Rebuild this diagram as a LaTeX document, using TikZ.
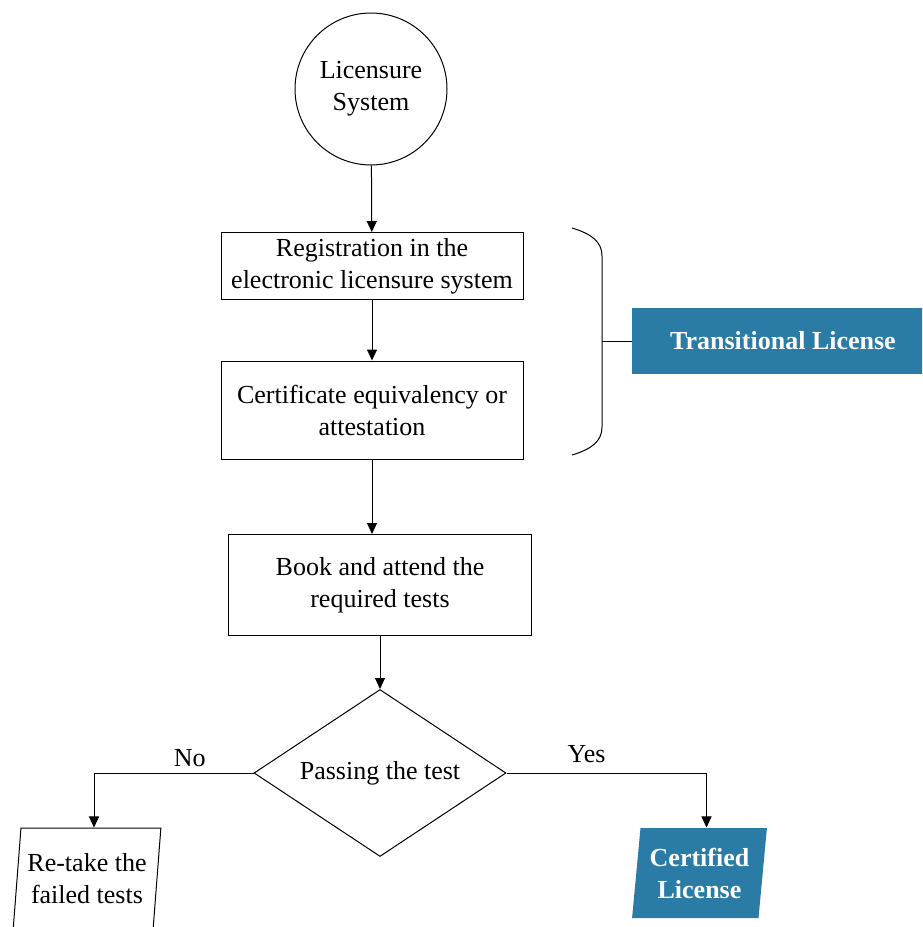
\documentclass[tikz,border=0pt]{standalone}
\usepackage{fontspec}
\setmainfont{Liberation Serif}
\usetikzlibrary{arrows.meta,shapes.geometric}
\definecolor{licblue}{HTML}{2A7BA6}

\begin{document}
\begin{tikzpicture}[x=1pt,y=-1pt,line width=1pt,font=\fontsize{26}{32}\selectfont,
    >={Triangle[length=11pt,width=10pt]}]
  \tikzstyle{step box}=[draw,rectangle,align=center,inner sep=0pt,minimum width=302pt]
  \tikzstyle{slanted}=[trapezium,trapezium left angle=82,trapezium right angle=98,
    trapezium stretches=true,align=center,inner sep=0pt]
  \tikzstyle{blue}=[fill=licblue,text=white,font=\fontsize{26}{32}\selectfont\bfseries]
  \path[use as bounding box,clip] (0,0) rectangle (922,927);
  \node[draw,circle,minimum size=152pt,inner sep=0pt,align=center] (sys) at (371,89) {Licensure\\System};
  \node[step box,minimum height=67pt] (reg) at (372,266) {Registration in the\\electronic licensure system};
  \node[step box,minimum height=98pt] (cert) at (372,410) {Certificate equivalency or\\attestation};
  \node[step box,minimum width=303pt,minimum height=101pt] (book) at (380,585) {Book and attend the\\required tests};
  \node[draw,diamond,aspect=1.5,minimum width=252pt,minimum height=167pt,inner sep=0pt] (pass) at (380,773) {Passing the test};
  \node[draw,slanted,minimum width=148pt,minimum height=102pt] (retake) at (87,879) {Re-take the\\failed tests};
  \node[blue,slanted,minimum width=135pt,minimum height=90pt] (lic) at (699.5,873) {Certified\\License};
  \node[blue,rectangle,minimum width=302pt,minimum height=66pt] (trans) at (783,341) {Transitional License};
  \draw (572,228) .. controls (592,234) and (602,242) .. (602,256) -- (602,427)
    .. controls (602,441) and (592,449) .. (572,455);
  \coordinate (tip) at (602,341);
  \draw (tip) -- (trans.west);
  \draw[->] (sys) -- (reg);
  \draw[->] (reg) -- (cert);
  \draw[->] (cert.south) -- (cert.south |- book.north);
  \draw[->] (book) -- (pass);
  \draw[->] (pass.west) -| node[pos=0.2,above=2pt] {No} ([xshift=7pt]retake.north);
  \draw[->] (pass.east) -| node[pos=0.2,above=6pt] {Yes} ([xshift=7pt]lic.north);
\end{tikzpicture}
\end{document}
